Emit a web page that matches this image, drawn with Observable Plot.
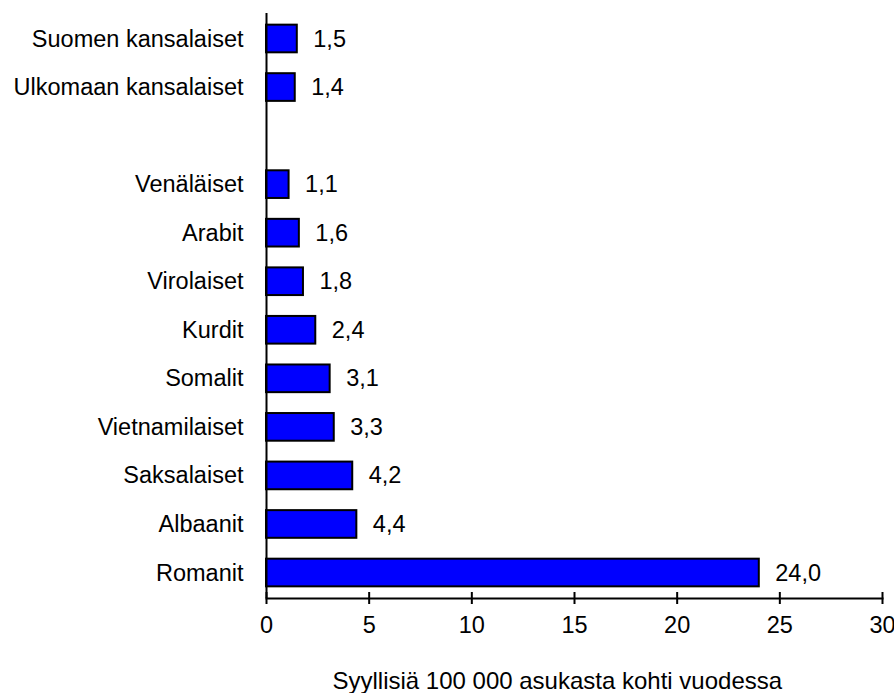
<!DOCTYPE html>
<html>
<head>
<meta charset="utf-8">
<script src="https://cdn.jsdelivr.net/npm/d3@7"></script>
<script src="https://cdn.jsdelivr.net/npm/@observablehq/plot@0.6"></script>
<style>
  html, body { margin: 0; padding: 0; background: #fff; }
</style>
</head>
<body>
<div id="chart"></div>
<script>
const categories = ["Suomen kansalaiset", "Ulkomaan kansalaiset", "", "Venäläiset", "Arabit", "Virolaiset", "Kurdit", "Somalit", "Vietnamilaiset", "Saksalaiset", "Albaanit", "Romanit"];
const values = [1.5, 1.4, null, 1.1, 1.6, 1.8, 2.4, 3.1, 3.3, 4.2, 4.4, 24.0];
const xTicks = [0, 5, 10, 15, 20, 25, 30];
const xTitle = "Syyllisiä 100 000 asukasta kohti vuodessa";

const data = categories
  .map((c, i) => ({name: c, value: values[i]}))
  .filter(d => d.value != null);

const fmt = v => v.toFixed(1).replace(".", ",");
const font = "'Liberation Sans', Arial, sans-serif";

const chart = Plot.plot({
  width: 894,
  height: 693,
  marginLeft: 266,
  marginRight: 12,
  marginTop: 13,
  marginBottom: 95,
  style: {fontFamily: font, fontSize: "23.5px", color: "#000", background: "#fff", overflow: "visible"},
  x: {domain: [0, 30]},
  y: {domain: categories, paddingInner: 0.43, paddingOuter: 0.24, round: false},
  marks: [
    Plot.barX(data, {x: "value", y: "name", fill: "#0000ff", stroke: "#000", strokeWidth: 2}),
    Plot.text(data, {x: "value", y: "name", text: d => fmt(d.value), textAnchor: "start", dx: 16, fill: "#000"}),
    Plot.axisY({tickSize: 0, tickPadding: 23, label: null, fill: "#000"}),
    Plot.axisX({ticks: xTicks, tickSize: 12, dy: -6, text: null, label: null, stroke: "#000", strokeWidth: 2}),
    Plot.axisX({ticks: xTicks, tickSize: 0, tickPadding: 18, label: null, fill: "#000"}),
    Plot.ruleX([0], {stroke: "#000", strokeWidth: 2}),
    Plot.frame({anchor: "bottom", stroke: "#000", strokeWidth: 2}),
    Plot.text([xTitle], {frameAnchor: "bottom-left", textAnchor: "start", dx: 66, dy: 90, fontSize: 24, fill: "#000"})
  ]
});
document.getElementById("chart").appendChild(chart);
</script>
</body>
</html>
